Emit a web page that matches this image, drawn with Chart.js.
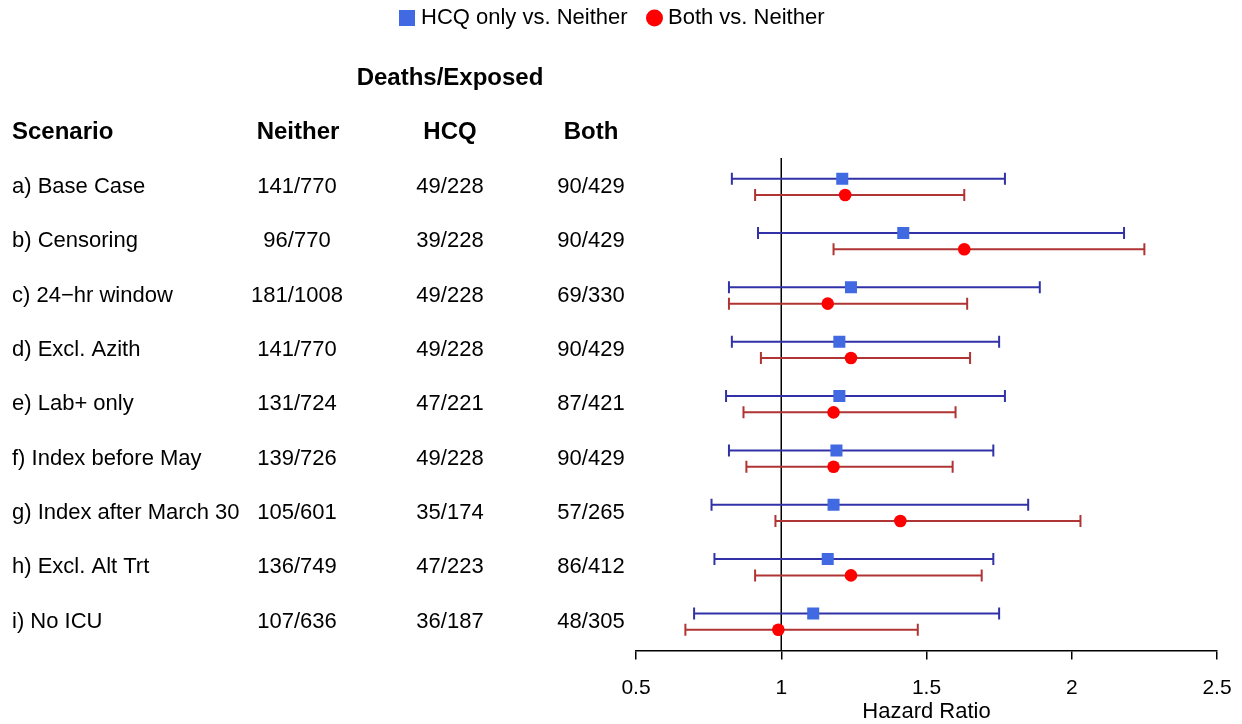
<!DOCTYPE html>
<html lang="en">
<head>
    <meta charset="UTF-8">
    <title>Hazard Ratio by Scenario</title>
    <script src="https://cdn.jsdelivr.net/npm/chart.js"></script>
    <style>
        html, body { margin: 0; padding: 0; background: #fff; }
        .wrap { width: 1242px; height: 724px; position: relative; }
    </style>
</head>
<body>
    <div class="wrap">
        <canvas id="forest"></canvas>
    </div>
    <script>
        // table columns
        const scenarios = ['a) Base Case', 'b) Censoring', 'c) 24\u2212hr window', 'd) Excl. Azith', 'e) Lab+ only',
            'f) Index before May', 'g) Index after March 30', 'h) Excl. Alt Trt', 'i) No ICU'];
        const neither = ['141/770', '96/770', '181/1008', '141/770', '131/724', '139/726', '105/601', '136/749', '107/636'];
        const hcq = ['49/228', '39/228', '49/228', '49/228', '47/221', '49/228', '35/174', '47/223', '36/187'];
        const both = ['90/429', '90/429', '69/330', '90/429', '87/421', '90/429', '57/265', '86/412', '48/305'];

        // hazard ratios with 95% CI
        const hcqHR = [1.21, 1.42, 1.24, 1.20, 1.20, 1.19, 1.18, 1.16, 1.11];
        const hcqLo = [0.83, 0.92, 0.82, 0.83, 0.81, 0.82, 0.76, 0.77, 0.70];
        const hcqHi = [1.77, 2.18, 1.89, 1.75, 1.77, 1.73, 1.85, 1.73, 1.75];
        const bothHR = [1.22, 1.63, 1.16, 1.24, 1.18, 1.18, 1.41, 1.24, 0.99];
        const bothLo = [0.91, 1.18, 0.82, 0.93, 0.87, 0.88, 0.98, 0.91, 0.67];
        const bothHi = [1.63, 2.25, 1.64, 1.65, 1.60, 1.59, 2.03, 1.69, 1.47];

        const xTicks = [0.5, 1, 1.5, 2, 2.5];

        const FONT = '"Liberation Sans", Arial, sans-serif';
        const BLUE = '#4169e1', BLUE_BAR = '#3232a8';
        const RED = '#ff0000', RED_BAR = '#b03434';
        const Y_MIN = 0.47, Y_MAX = 9.53;
        const SHIFT = 0.15; // blue row above, red row below

        // error bars as one line dataset with gaps between rows
        function bars(lo, hi, dy) {
            const out = [];
            lo.forEach((v, i) => {
                out.push({x: v, y: i + 1 + dy}, {x: hi[i], y: i + 1 + dy}, {x: null, y: null});
            });
            return out;
        }
        function points(vals, dy) {
            return vals.map((v, i) => ({x: v, y: i + 1 + dy}));
        }

        // left-hand table, headings and legend
        const tablePlugin = {
            id: 'table',
            afterDraw(chart) {
                const ctx = chart.ctx;
                const y = chart.scales.y;
                ctx.save();
                ctx.fillStyle = '#000';
                ctx.textBaseline = 'middle';

                ctx.font = 'bold 24px ' + FONT;
                ctx.textAlign = 'center';
                ctx.fillText('Deaths/Exposed', 450, y.getPixelForValue(-1));
                const hy = y.getPixelForValue(0);
                ctx.textAlign = 'left';
                ctx.fillText('Scenario', 12, hy);
                ctx.textAlign = 'center';
                ctx.fillText('Neither', 298, hy);
                ctx.fillText('HCQ', 450, hy);
                ctx.fillText('Both', 591, hy);

                ctx.font = '22px ' + FONT;
                scenarios.forEach((s, i) => {
                    const py = y.getPixelForValue(i + 1);
                    ctx.textAlign = 'left';
                    ctx.fillText(s, 12, py);
                    ctx.textAlign = 'center';
                    ctx.fillText(neither[i], 297, py);
                    ctx.fillText(hcq[i], 450, py);
                    ctx.fillText(both[i], 591, py);
                });

                // legend
                ctx.fillStyle = BLUE;
                ctx.fillRect(399, 10, 16, 16);
                ctx.fillStyle = RED;
                ctx.beginPath();
                ctx.arc(654.5, 18, 8.5, 0, Math.PI * 2);
                ctx.fill();
                ctx.fillStyle = '#000';
                ctx.textAlign = 'left';
                ctx.fillText('HCQ only vs. Neither', 421, 18);
                ctx.fillText('Both vs. Neither', 668, 18);
                ctx.restore();
            }
        };

        new Chart(document.getElementById('forest'), {
            type: 'line',
            data: {
                datasets: [
                    {
                        label: 'HCQ only vs. Neither',
                        type: 'scatter',
                        data: points(hcqHR, -SHIFT),
                        pointStyle: 'rect',
                        pointRadius: 8.5,
                        backgroundColor: BLUE,
                        borderColor: BLUE,
                        borderWidth: 0,
                        order: 0
                    },
                    {
                        label: 'Both vs. Neither',
                        type: 'scatter',
                        data: points(bothHR, SHIFT),
                        pointStyle: 'circle',
                        pointRadius: 6.3,
                        backgroundColor: RED,
                        borderColor: RED,
                        borderWidth: 0,
                        order: 0
                    },
                    {
                        label: 'hcq ci',
                        data: bars(hcqLo, hcqHi, -SHIFT),
                        borderColor: BLUE_BAR,
                        borderWidth: 2,
                        pointStyle: 'line',
                        pointRotation: 90,
                        pointRadius: 6,
                        pointBorderColor: BLUE_BAR,
                        pointBorderWidth: 2,
                        spanGaps: false,
                        order: 1
                    },
                    {
                        label: 'both ci',
                        data: bars(bothLo, bothHi, SHIFT),
                        borderColor: RED_BAR,
                        borderWidth: 2,
                        pointStyle: 'line',
                        pointRotation: 90,
                        pointRadius: 6,
                        pointBorderColor: RED_BAR,
                        pointBorderWidth: 2,
                        spanGaps: false,
                        order: 1
                    },
                    {
                        label: 'null',
                        data: [{x: 1, y: Y_MIN}, {x: 1, y: Y_MAX}],
                        borderColor: '#000',
                        borderWidth: 1.5,
                        pointRadius: 0,
                        order: 2
                    }
                ]
            },
            options: {
                responsive: true,
                maintainAspectRatio: false,
                animation: false,
                layout: { padding: { left: 636, right: 25, top: 158, bottom: 0 } },
                plugins: {
                    legend: { display: false },
                    tooltip: { enabled: false }
                },
                scales: {
                    x: {
                        type: 'linear',
                        min: 0.5,
                        max: 2.5,
                        afterBuildTicks: (s) => { s.ticks = xTicks.map(v => ({value: v})); },
                        // labels may hang past the axis ends
                        afterFit: (s) => { s.paddingLeft = 0; s.paddingRight = 0; },
                        border: { display: true, color: '#000', width: 1.5 },
                        grid: { drawOnChartArea: false, drawTicks: true, tickLength: 9, tickColor: '#000', lineWidth: 1.5 },
                        ticks: {
                            color: '#000', padding: 16, maxRotation: 0,
                            font: { family: FONT, size: 21 },
                            callback: (v) => String(v)
                        },
                        title: {
                            display: true, text: 'Hazard Ratio', color: '#000',
                            padding: { top: -18, bottom: -1 },
                            font: { family: FONT, size: 22 }
                        }
                    },
                    y: {
                        type: 'linear',
                        display: false,
                        reverse: true,
                        min: Y_MIN,
                        max: Y_MAX
                    }
                }
            },
            plugins: [tablePlugin]
        });
    </script>
</body>
</html>
